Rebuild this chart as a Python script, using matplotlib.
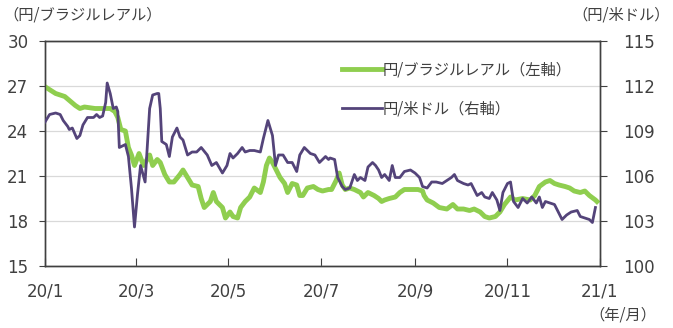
import numpy as np
import pandas as pd
import matplotlib
matplotlib.use("Agg")
import matplotlib.pyplot as plt
import matplotlib.dates as mdates

plt.rcParams['font.family'] = ['Noto Sans CJK JP', 'DejaVu Sans']

# 円/ブラジルレアル (left axis)
brl_dates = ['01-01', '01-08', '01-14', '01-21', '01-24', '01-27', '02-03', '02-10', '02-13',
             '02-16', '02-18', '02-20', '02-23', '02-25', '02-27', '02-29', '03-03', '03-06',
             '03-10', '03-12', '03-15', '03-17', '03-20', '03-23', '03-26', '03-30', '04-01',
             '04-04', '04-07', '04-11', '04-13', '04-15', '04-19', '04-21', '04-23', '04-27',
             '04-29', '05-02', '05-04', '05-07', '05-09', '05-12', '05-15', '05-18', '05-22',
             '05-24', '05-26', '05-28', '05-30', '06-02', '06-04', '06-07', '06-09', '06-12',
             '06-15', '06-17', '06-19', '06-22', '06-26', '06-29', '07-02', '07-06', '07-08',
             '07-11', '07-13', '07-15', '07-17', '07-20', '07-23', '07-27', '07-29', '08-01',
             '08-05', '08-08', '08-10', '08-12', '08-15', '08-19', '08-22', '08-25', '08-30',
             '09-03', '09-06', '09-07', '09-09', '09-13', '09-17', '09-22', '09-26', '09-29',
             '10-03', '10-07', '10-10', '10-14', '10-17', '10-20', '10-24', '10-27', '10-30',
             '11-03', '11-06', '11-11', '11-16', '11-19', '11-22', '11-26', '11-29', '12-02',
             '12-05', '12-09', '12-12', '12-15', '12-19', '12-22', '12-25', '12-29', '12-30']
brl_values = [26.95, 26.5, 26.3, 25.7, 25.5, 25.6, 25.5, 25.5, 25.5,
              25.3, 24.9, 24.1, 24.0, 22.9, 22.4, 21.7, 22.5, 21.7,
              22.4, 21.7, 22.1, 21.9, 21.1, 20.6, 20.6, 21.1, 21.4,
              20.9, 20.4, 20.3, 19.5, 18.9, 19.3, 19.9, 19.3, 18.9,
              18.2, 18.6, 18.3, 18.2, 18.9, 19.3, 19.6, 20.2, 19.9,
              20.6, 21.7, 22.2, 21.9, 21.3, 20.9, 20.5, 19.9, 20.5,
              20.4, 19.7, 19.7, 20.2, 20.3, 20.1, 20.0, 20.1, 20.1,
              20.7, 21.2, 20.4, 20.1, 20.2, 20.1, 19.9, 19.6, 19.9,
              19.7, 19.5, 19.3, 19.4, 19.5, 19.6, 19.9, 20.1, 20.1,
              20.1, 20.0, 19.7, 19.4, 19.2, 18.9, 18.8, 19.1, 18.8,
              18.8, 18.7, 18.8, 18.6, 18.3, 18.2, 18.3, 18.6, 19.1,
              19.6, 19.4, 19.5, 19.4, 19.7, 20.3, 20.6, 20.7, 20.5,
              20.4, 20.3, 20.2, 20.0, 19.9, 20.0, 19.7, 19.4, 19.3]

# 円/米ドル (right axis)
usd_dates = ['01-01', '01-04', '01-08', '01-11', '01-13', '01-16', '01-17', '01-19', '01-22',
             '01-24', '01-26', '01-29', '01-31', '02-02', '02-04', '02-06', '02-08', '02-10',
             '02-11', '02-13', '02-15', '02-17', '02-18', '02-19', '02-23', '02-25', '02-27',
             '02-29', '03-02', '03-04', '03-07', '03-08', '03-10', '03-12', '03-15', '03-16',
             '03-17', '03-18', '03-21', '03-23', '03-25', '03-28', '03-30', '04-01', '04-04',
             '04-07', '04-10', '04-13', '04-17', '04-20', '04-23', '04-27', '04-30', '05-02',
             '05-04', '05-07', '05-10', '05-12', '05-15', '05-18', '05-22', '05-24', '05-27',
             '05-30', '06-01', '06-03', '06-06', '06-09', '06-12', '06-15', '06-17', '06-20',
             '06-24', '06-27', '06-30', '07-04', '07-06', '07-07', '07-10', '07-12', '07-15',
             '07-17', '07-20', '07-23', '07-25', '07-27', '07-30', '08-01', '08-04', '08-06',
             '08-08', '08-10', '08-12', '08-15', '08-17', '08-19', '08-22', '08-25', '08-29',
             '09-01', '09-04', '09-06', '09-09', '09-12', '09-15', '09-19', '09-22', '09-25',
             '09-27', '09-29', '10-03', '10-06', '10-08', '10-10', '10-12', '10-15', '10-17',
             '10-20', '10-22', '10-25', '10-27', '10-29', '11-01', '11-03', '11-05', '11-08',
             '11-11', '11-14', '11-17', '11-20', '11-22', '11-24', '11-26', '11-29', '12-02',
             '12-04', '12-07', '12-10', '12-13', '12-17', '12-19', '12-22', '12-25', '12-27',
             '12-29']
usd_values = [109.6, 110.1, 110.2, 110.1, 109.7, 109.3, 109.1, 109.2, 108.5,
              108.7, 109.4, 109.9, 109.9, 109.9, 110.1, 109.9, 110.0, 110.9,
              112.2, 111.5, 110.5, 110.6, 110.3, 107.9, 108.1, 107.3, 105.2,
              102.6, 104.8, 106.7, 105.6, 107.2, 110.5, 111.4, 111.5, 111.5,
              110.5, 108.3, 108.1, 107.3, 108.6, 109.2, 108.6, 108.4, 107.4,
              107.6, 107.6, 107.9, 107.4, 106.7, 106.9, 106.2, 106.7, 107.5,
              107.2, 107.5, 107.9, 107.6, 107.7, 107.7, 107.6, 108.5, 109.7,
              108.7, 106.7, 107.4, 107.4, 106.9, 106.9, 106.3, 107.4, 107.9,
              107.5, 107.4, 106.9, 107.3, 107.1, 107.2, 107.1, 105.9, 105.3,
              105.1, 105.2, 106.1, 105.7, 105.9, 105.7, 106.6, 106.9, 106.7,
              106.4, 105.9, 106.1, 105.7, 106.7, 105.9, 105.9, 106.3, 106.4,
              106.2, 105.9, 105.3, 105.2, 105.6, 105.6, 105.5, 105.7, 105.9,
              106.1, 105.7, 105.5, 105.4, 105.5, 105.1, 104.7, 104.9, 104.6,
              104.5, 104.9, 104.4, 103.7, 104.9, 105.5, 105.6, 104.3, 103.9,
              104.5, 104.2, 104.6, 104.2, 104.6, 103.9, 104.3, 104.2, 104.1,
              103.7, 103.1, 103.4, 103.6, 103.7, 103.3, 103.2, 103.1, 102.9,
              103.9]

tick_dates = ['2020-01-01', '2020-03-01', '2020-05-01', '2020-07-01', '2020-09-01',
              '2020-11-01', '2021-01-01']
tick_labels = ['20/1', '20/3', '20/5', '20/7', '20/9', '20/11', '21/1']

brl_x = pd.to_datetime(['2020-' + d for d in brl_dates])
usd_x = pd.to_datetime(['2020-' + d for d in usd_dates])

green = '#8fce4f'
purple = '#54447a'
txt = '#404040'
edge = '#404040'

fig = plt.figure(figsize=(6.73, 3.28), dpi=100)
ax = fig.add_axes([0.0669, 0.189, 0.8246, 0.686])
ax2 = ax.twinx()

l1, = ax.plot(brl_x, brl_values, color=green, lw=3.5, solid_joinstyle='round',
              label='円/ブラジルレアル（左軸）', zorder=3)
l2, = ax2.plot(usd_x, usd_values, color=purple, lw=2.0, solid_joinstyle='round',
               label='円/米ドル（右軸）', zorder=3)

ax.set_ylim(15, 30)
ax.set_yticks([15, 18, 21, 24, 27, 30])
ax2.set_ylim(100, 115)
ax2.set_yticks([100, 103, 106, 109, 112, 115])
ax.set_xlim(pd.Timestamp('2020-01-01'), pd.Timestamp('2021-01-01'))
ax.set_xticks(pd.to_datetime(tick_dates))
ax.set_xticklabels(tick_labels)

ax.grid(axis='y', color='#d9d9d9', lw=0.9)
ax.set_axisbelow(True)

for a in (ax, ax2):
    for s in a.spines.values():
        s.set_color(edge)
        s.set_linewidth(1.0)
ax.tick_params(axis='x', direction='in', length=6, pad=12, colors=edge,
               labelcolor=txt, labelsize=12)
ax.tick_params(axis='y', direction='out', length=4, pad=8, colors=edge,
               labelcolor=txt, labelsize=12)
ax2.tick_params(axis='y', direction='out', length=5, pad=12, colors=edge,
                labelcolor=txt, labelsize=12)
for lab in ax.get_xticklabels() + ax.get_yticklabels() + ax2.get_yticklabels():
    lab.set_family(['DejaVu Sans'])

leg = ax.legend(handles=[l1, l2], loc='upper left', bbox_to_anchor=(0.51, 0.97),
                frameon=False, fontsize=11, handlelength=2.6, handletextpad=0.1,
                labelspacing=1.45, labelcolor=txt)

fig.text(0.005, 0.955, '（円/ブラジルレアル）', fontsize=11, color=txt, va='center')
fig.text(0.995, 0.955, '（円/米ドル）', fontsize=11, color=txt, va='center', ha='right')
fig.text(0.975, 0.04, '（年/月）', fontsize=11, color=txt, va='center', ha='right')

fig.savefig('out.png', dpi=100)
